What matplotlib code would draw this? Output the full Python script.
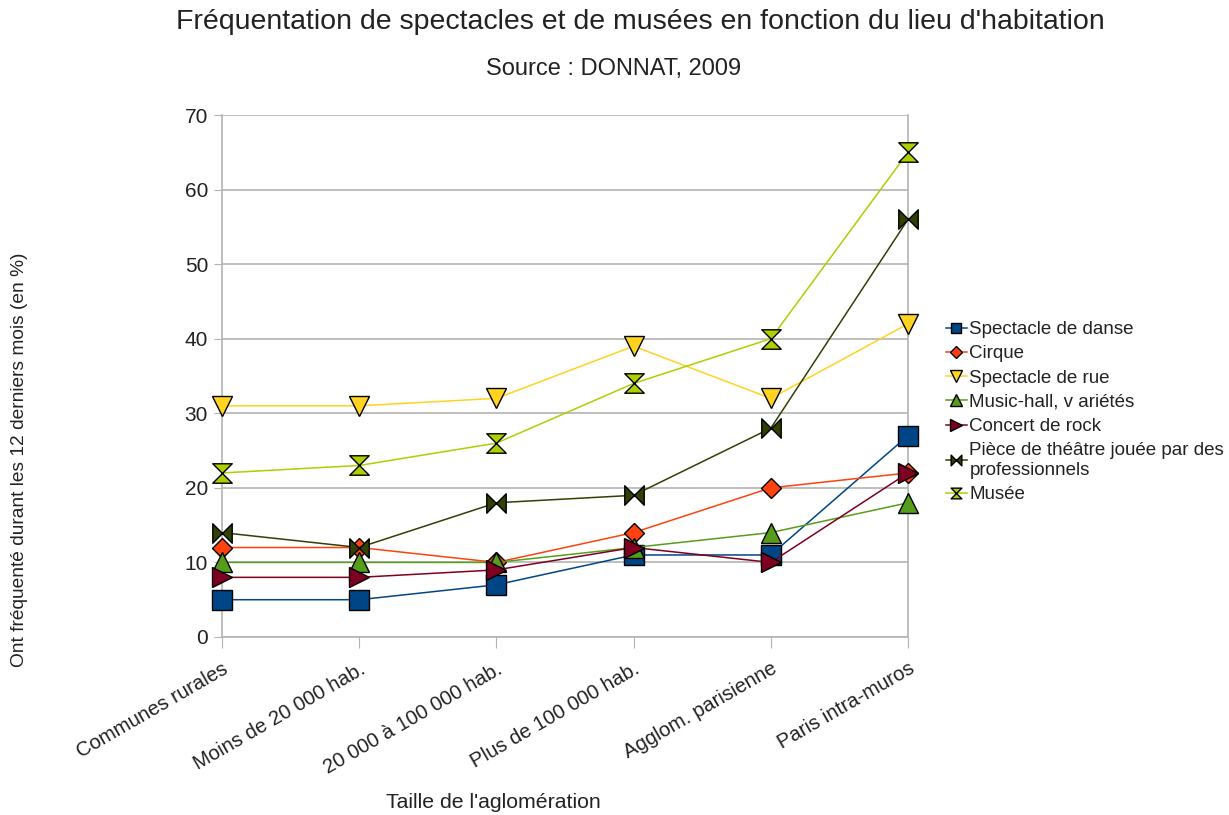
import matplotlib.pyplot as plt
from matplotlib.path import Path

plt.rcParams['font.family'] = ['Liberation Sans', 'DejaVu Sans']

categories = ['Communes rurales', 'Moins de 20 000 hab.', '20 000 à 100 000 hab.',
              'Plus de 100 000 hab.', 'Agglom. parisienne', 'Paris intra-muros']

danse = [5, 5, 7, 11, 11, 27]
cirque = [12, 12, 10, 14, 20, 22]
rue = [31, 31, 32, 39, 32, 42]
music_hall = [10, 10, 10, 12, 14, 18]
rock = [8, 8, 9, 12, 10, 22]
theatre = [14, 12, 18, 19, 28, 56]
musee = [22, 23, 26, 34, 40, 65]

# bowtie (two triangles pointing in) and hourglass markers
bowtie = Path([(-1, -1), (0, 0), (-1, 1), (-1, -1), (1, -1), (0, 0), (1, 1), (1, -1)],
              [1, 2, 2, 79, 1, 2, 2, 79])
hourglass = Path([(-1, 1), (0, 0), (1, 1), (-1, 1), (-1, -1), (0, 0), (1, -1), (-1, -1)],
                 [1, 2, 2, 79, 1, 2, 2, 79])

series = [
    ('Spectacle de danse', danse, '#004586', 's', 14),
    ('Cirque', cirque, '#ff420e', 'D', 10.5),
    ('Spectacle de rue', rue, '#ffd320', 'v', 15),
    ('Music-hall, v ariétés', music_hall, '#579d1c', '^', 15),
    ('Concert de rock', rock, '#7e0021', '>', 15),
    ('Pièce de théâtre jouée par des\nprofessionnels', theatre, '#314004', bowtie, 14),
    ('Musée', musee, '#aecf00', hourglass, 14),
]

fig = plt.figure(figsize=(12.29, 8.15), dpi=100)
ax = fig.add_axes([222 / 1229, 1 - 637 / 815, (908 - 222) / 1229, (637 - 115) / 815])

x = list(range(len(categories)))
for label, vals, color, marker, ms in series:
    ax.plot(x, vals, color=color, lw=1.1, marker=marker, ms=ms,
            mfc=color, mec='black', mew=1.0, label=label, clip_on=False, zorder=3)

ax.set_xlim(0, len(categories) - 1)
ax.set_ylim(0, 70)
ax.set_yticks(range(0, 71, 10))
ax.set_xticks(x)
ax.set_xticklabels(categories, rotation=30, ha='right', rotation_mode='anchor', fontsize=14.6)
ax.tick_params(axis='y', labelsize=15, length=6, color='#b3b3b3', pad=4, labelcolor='#222222')
ax.tick_params(axis='x', length=8, color='#b3b3b3', pad=8, labelcolor='#222222')
ax.grid(axis='y', color='#b3b3b3', lw=1.2)
ax.set_axisbelow(True)
for side in ['left', 'bottom', 'right']:
    ax.spines[side].set_color('#b3b3b3')
    ax.spines[side].set_linewidth(1.2)
ax.spines['top'].set_visible(False)

fig.text(640 / 1229, 1 - 22 / 815, "Fréquentation de spectacles et de musées en fonction du lieu d'habitation",
         ha='center', va='center', fontsize=20.5, color='#222222')
fig.text(614 / 1229, 1 - 69 / 815, 'Source : DONNAT, 2009', ha='center', va='center',
         fontsize=17, color='#222222')
fig.text(20 / 1229, 1 - 460 / 815, 'Ont fréquenté durant les 12 derniers mois (en %)',
         rotation=90, ha='center', va='center', fontsize=13.8, color='#222222')
fig.text(493 / 1229, 1 - 803 / 815, "Taille de l'aglomération", ha='center', va='center',
         fontsize=15.3, color='#222222')

leg = ax.legend(loc='upper left', bbox_to_anchor=(946 / 1229, 1 - 321 / 815),
                bbox_transform=fig.transFigure, frameon=False, fontsize=13.5,
                markerscale=0.55, handlelength=1.1, handletextpad=0.15, labelspacing=0.38,
                borderaxespad=0, borderpad=0)
for t in leg.get_texts():
    t.set_color('#222222')

fig.savefig('out.png', dpi=100)
